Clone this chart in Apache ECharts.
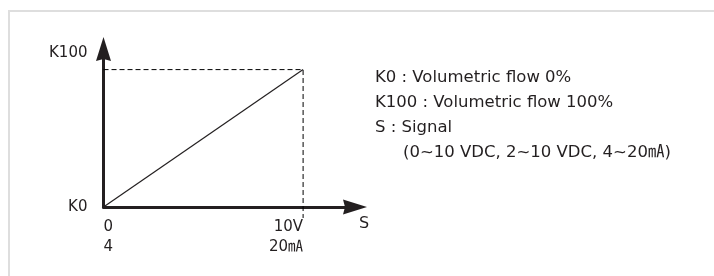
<!DOCTYPE html>
<html>
<head>
<meta charset="utf-8">
<script src="https://cdn.jsdelivr.net/npm/echarts@6/dist/echarts.min.js"></script>
<style>
  html, body { margin: 0; padding: 0; background: #fff; }
  #wrap { position: relative; width: 714px; height: 276px; overflow: hidden; }
  #frame { position: absolute; left: 8px; top: 10px; width: 800px; height: 400px;
           border-top: 2px solid #dedede; border-left: 2px solid #dedede; }
  #main { position: absolute; left: 0; top: 0; width: 714px; height: 276px; }
</style>
</head>
<body>
<div id="wrap">
  <div id="frame"></div>
  <div id="main"></div>
</div>
<script>
// signal -> volumetric flow (linear)
var signal = [0, 10];
var flow = [0, 100];
var xTickTop = ['0', '10V'];
var xTickBottom = ['4', '20㎃'];
var yTickLabels = ['K0', 'K100'];
var xName = 'S';
var notes = [
    'K0 : Volumetric flow 0%',
    'K100 : Volumetric flow 100%',
    'S : Signal',
    '(0~10 VDC, 2~10 VDC, 4~20㎃)'
];

var ink = '#231f20';
var font = '"DejaVu Sans", "Noto Sans CJK KR", sans-serif';
// axis symbols keep aspect, so path box = symbolSize
var arrow = 'path://M7.5,0 L15,24 L7.5,22 L0,24 Z';

// dashed guides from the full-scale point
var guide = [
    [signal[0] - 0.4, flow[1]],
    [signal[1], flow[1]],
    [signal[1], -8]
];

var noteText = notes.map(function (s, i) {
    return i === notes.length - 1 ? '{ind|' + s + '}' : s;
}).join('\n');

var myChart = echarts.init(document.getElementById('main'), null, {renderer: 'canvas'});

var option = {
    animation: false,
    title: {
        text: noteText,
        left: 375,
        top: 65,
        padding: 0,
        textStyle: {
            fontFamily: font,
            fontSize: 16.5,
            fontWeight: 'normal',
            color: ink,
            lineHeight: 25,
            rich: {
                ind: {fontFamily: font, fontSize: 16.5, color: ink, lineHeight: 25, padding: [0, 0, 0, 28]}
            }
        }
    },
    grid: {left: 103.5, top: 49, right: 359, bottom: 69},
    xAxis: {
        type: 'value',
        min: 0,
        max: 12.6,
        interval: 10,
        name: xName,
        nameLocation: 'end',
        nameGap: 9,
        nameTextStyle: {fontFamily: font, fontSize: 16, color: ink, align: 'center', verticalAlign: 'top', padding: [9, 0, 0, 0]},
        axisLine: {
            lineStyle: {color: ink, width: 3},
            symbol: ['none', arrow],
            symbolSize: [15, 24]
        },
        axisTick: {show: false},
        splitLine: {show: false},
        axisLabel: {
            margin: 10,
            fontFamily: font,
            fontSize: 15,
            color: ink,
            lineHeight: 20,
            align: 'right',
            alignMinLabel: 'left',
            formatter: function (v) {
                var i = signal.indexOf(v);
                return i < 0 ? '' : xTickTop[i] + '\n' + xTickBottom[i];
            }
        }
    },
    yAxis: {
        type: 'value',
        min: 0,
        max: 115,
        interval: 100,
        name: yTickLabels[1],
        nameLocation: 'end',
        nameGap: -4,
        nameTextStyle: {fontFamily: font, fontSize: 15, color: ink, align: 'right', verticalAlign: 'middle', padding: [0, 16, 0, 0]},
        axisLine: {
            lineStyle: {color: ink, width: 3},
            symbol: ['none', arrow],
            symbolSize: [15, 24]
        },
        axisTick: {show: false},
        splitLine: {show: false},
        axisLabel: {
            margin: 16,
            fontFamily: font,
            fontSize: 15,
            color: ink,
            formatter: function (v) {
                return v === flow[0] ? yTickLabels[0] : '';
            }
        }
    },
    series: [
        {
            type: 'line',
            data: guide,
            clip: false,
            symbol: 'none',
            silent: true,
            lineStyle: {color: '#000', width: 1, type: [5, 3]},
            z: 1
        },
        {
            type: 'line',
            data: signal.map(function (s, i) { return [s, flow[i]]; }),
            symbol: 'none',
            lineStyle: {color: ink, width: 1.2},
            z: 2
        }
    ]
};

myChart.setOption(option);
</script>
</body>
</html>
